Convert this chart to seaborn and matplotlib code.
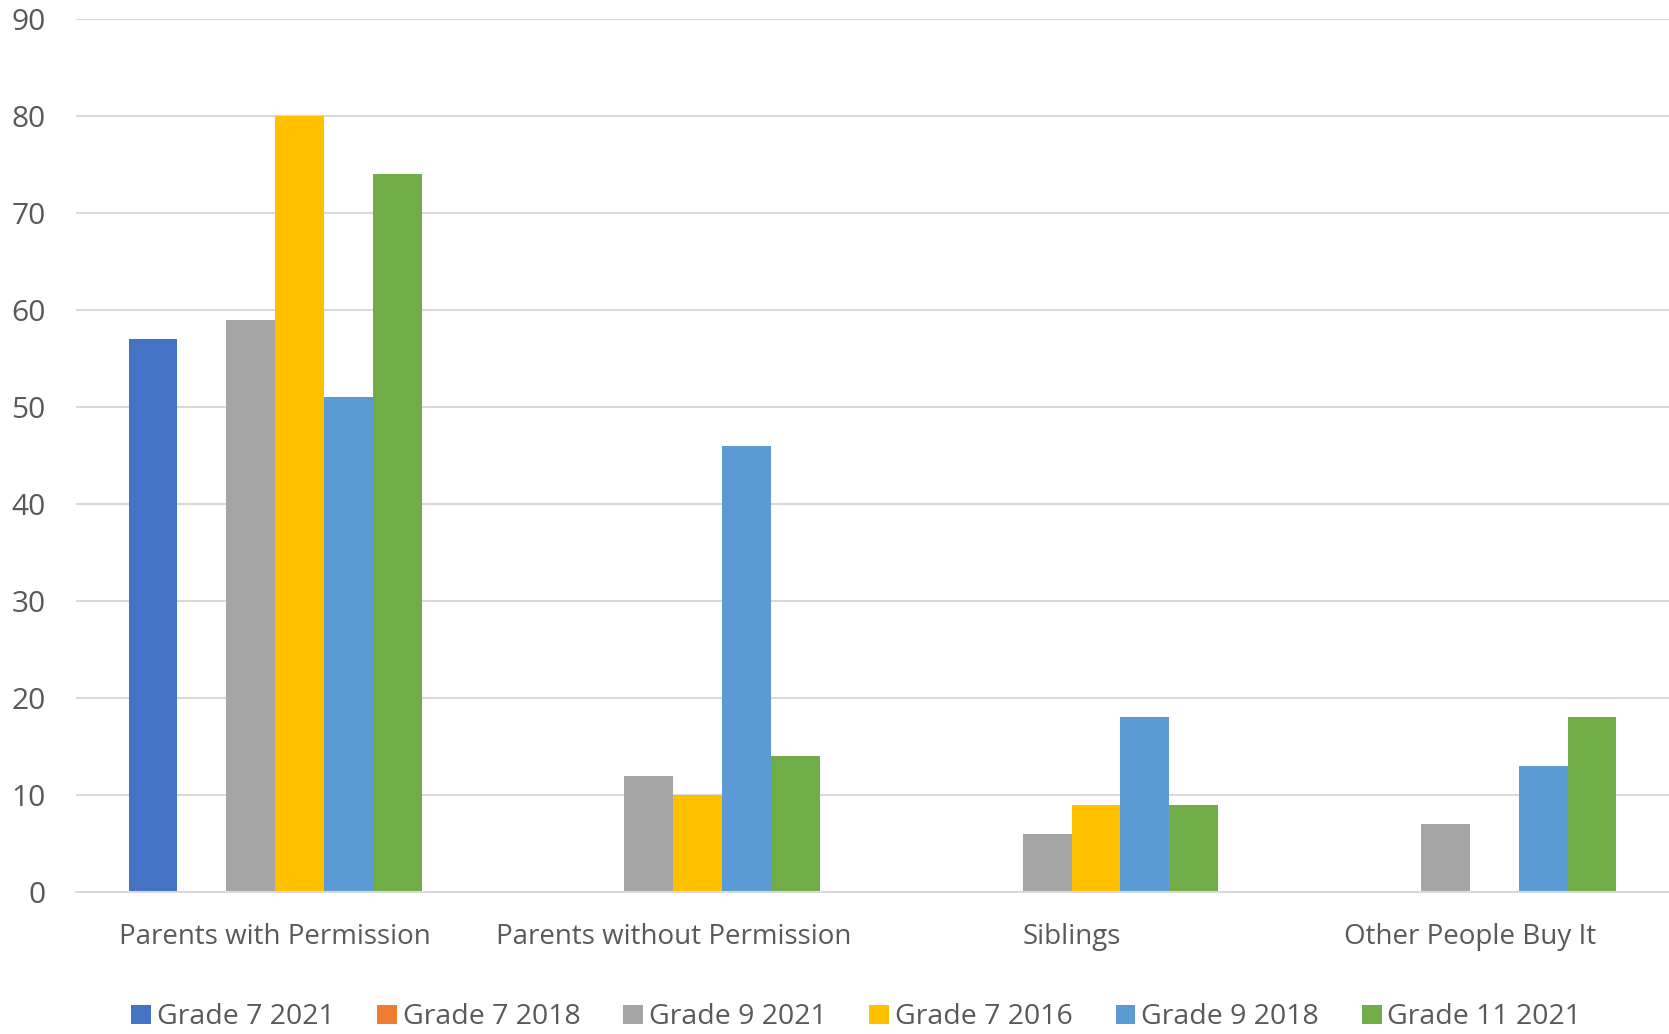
import matplotlib
matplotlib.use("Agg")
import matplotlib.pyplot as plt
import seaborn as sns
import pandas as pd

categories = ["Parents with Permission", "Parents without Permission", "Siblings", "Other People Buy It"]
series_names = ["Grade 7 2021", "Grade 7 2018", "Grade 9 2021", "Grade 7 2016", "Grade 9 2018", "Grade 11 2021"]
grade7_2021 = [57, 0, 0, 0]
grade7_2018 = [0, 0, 0, 0]
grade9_2021 = [59, 12, 6, 7]
grade7_2016 = [80, 10, 9, 0]
grade9_2018 = [51, 46, 18, 13]
grade11_2021 = [74, 14, 9, 18]
colors = ["#4472C4", "#ED7D31", "#A5A5A5", "#FFC000", "#5B9BD5", "#70AD47"]
yticks = [0, 10, 20, 30, 40, 50, 60, 70, 80, 90]

all_vals = [grade7_2021, grade7_2018, grade9_2021, grade7_2016, grade9_2018, grade11_2021]
rows = []
for name, vals in zip(series_names, all_vals):
    for c, v in zip(categories, vals):
        rows.append({"Category": c, "Series": name, "Value": v})
df = pd.DataFrame(rows)

sns.set_style("white")
plt.rcParams['font.family'] = ['Open Sans', 'DejaVu Sans']
text_color = "#595959"

fig = plt.figure(figsize=(16.69, 10.34), dpi=100)
ax = fig.add_axes([0.0455, 0.1373, 0.9545, 0.8443])

sns.barplot(data=df, x="Category", y="Value", hue="Series", order=categories,
            hue_order=series_names, palette=colors, width=0.736, linewidth=0,
            saturation=1, ax=ax, legend=True)

ax.set_ylim(0, 90)
ax.set_xlim(-0.5, 3.5)
ax.set_yticks(yticks)
ax.set_xlabel("")
ax.set_ylabel("")
ax.yaxis.grid(True, color="#D9D9D9", linewidth=1.5)
ax.set_axisbelow(True)
for s in ["top", "right", "left"]:
    ax.spines[s].set_visible(False)
ax.spines["bottom"].set_color("#D9D9D9")
ax.spines["bottom"].set_linewidth(1.5)
ax.tick_params(axis="y", length=0, colors=text_color, labelsize=21.5, pad=22)
ax.tick_params(axis="x", length=0, colors=text_color, labelsize=20, pad=22)
for lab in ax.get_yticklabels() + ax.get_xticklabels():
    lab.set_color(text_color)

handles, labels = ax.get_legend_handles_labels()
ax.get_legend().remove()
fig.legend(handles, labels, loc="center", bbox_to_anchor=(0.513, 0.016), ncol=6,
           frameon=False, fontsize=20.5, handlelength=0.7, handleheight=0.7,
           handletextpad=0.2, columnspacing=1.5, labelcolor=text_color)

fig.savefig("out.png", dpi=100, facecolor="white")
